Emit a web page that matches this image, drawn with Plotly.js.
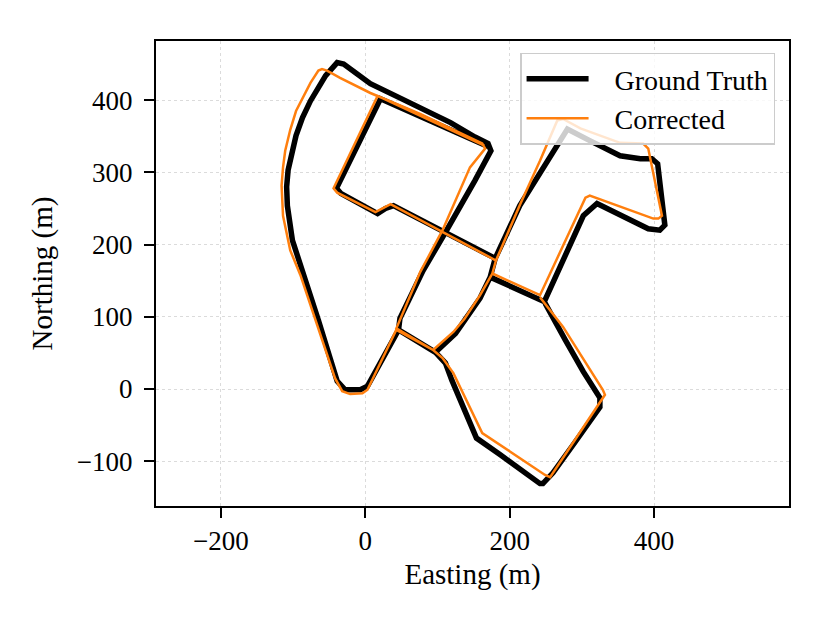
<!DOCTYPE html>
<html>
<head>
<meta charset="utf-8">
<script src="https://cdn.plot.ly/plotly-3.0.1.min.js"></script>
<style>html,body{margin:0;padding:0;background:#fff;}</style>
</head>
<body>
<div id="chart" style="width:830px;height:623px;"></div>
<script>
// Ground truth trajectory (Easting, Northing in m)
const gtEast = [170, 21, -40, -34, 17, 28, 39, 111, 180, 214, 249, 280, 311, 353, 381, 397, 405, 415, 408, 392, 321, 302, 248,
  173, 180, 173, 159, 141, 125, 97, 46, 3, -7, -28, -39, -65, -90, -101, -108, -109, -107, -102, -96, -87, -76, -55, -39, -30, -14, 7, 42, 76, 118, 152, 170, 174,
  152, 111, 80, 48, 46, 97, 111, 120, 138, 154, 187, 242, 246, 260, 291, 325, 325, 302, 277, 260, 249];
const gtNorth = [336, 402, 278, 271, 243, 250, 254, 217, 181, 254, 309, 360, 344, 323, 319, 319, 312, 227, 220, 222, 257, 240, 121,
  155, 181, 155, 126, 99, 77, 51, 82, 4, -1, -1, 11, 95, 171, 206, 254, 280, 303, 328, 351, 376, 399, 434, 452, 450, 438, 423, 406, 390, 369, 349, 340, 330,
  289, 217, 164, 98, 82, 51, 36, 12, -29, -68, -91, -131, -131, -116, -73, -25, -12, 24, 68, 98, 119];

// Corrected trajectory
const corEast = [165, 17, -44, -39, 14, 25, 35, 108, 181, 215, 242, 266, 274, 298, 353, 385, 392, 411, 406, 399, 311, 305, 242,
  176, 181, 176, 159, 138, 122, 94, 43, 3, -4, -21, -32, -42, -90, -104, -114, -116, -114, -111, -104, -96, -76, -65, -60, -53, -35, 7, 76, 162, 166,
  145, 107, 76, 43, 94, 107, 122, 162, 249, 256, 325, 332, 329, 274, 242];
const corNorth = [337, 406, 278, 272, 245, 251, 256, 217, 178, 257, 316, 372, 374, 361, 341, 340, 333, 240, 236, 236, 268, 265, 130,
  160, 178, 160, 130, 98, 79, 54, 82, -1, -6, -7, -3, 15, 158, 192, 240, 282, 307, 330, 359, 385, 424, 441, 443, 441, 431, 410, 381, 340, 333,
  307, 220, 162, 84, 54, 43, 22, -61, -119, -122, -19, -8, -1, 86, 127];

const seriesNames = ['Ground Truth', 'Corrected'];
const xTickVals = [-200, 0, 200, 400];
const xTickText = ['\u2212200', '0', '200', '400'];
const yTickVals = [-100, 0, 100, 200, 300, 400];
const yTickText = ['\u2212100', '0', '100', '200', '300', '400'];

const FONT = 'Liberation Serif, Times New Roman, serif';
const FS = 27;
const FS_BIG = 29;
const FS_LEG = 28;
const PAD = '\u00a0\u00a0\u00a0';

const traces = [
  {x: gtEast, y: gtNorth, type: 'scatter', mode: 'lines', name: PAD + seriesNames[0],
   line: {color: '#000000', width: 5.5}},
  {x: corEast, y: corNorth, type: 'scatter', mode: 'lines', name: PAD + seriesNames[1],
   line: {color: '#ff7f0e', width: 2.5}}
];

const axisCommon = {
  ticks: 'outside', ticklen: 10, tickwidth: 2, tickcolor: '#000',
  showline: true, linewidth: 2, linecolor: '#000', mirror: true,
  showgrid: true, gridcolor: '#d2d2d2', gridwidth: 0.8, griddash: 'dot',
  zeroline: false, automargin: false,
  tickfont: {family: FONT, size: FS, color: '#000'}
};

const layout = {
  width: 830, height: 623,
  margin: {l: 156, r: 41, t: 41, b: 117},
  paper_bgcolor: '#fff', plot_bgcolor: '#fff',
  showlegend: true,
  xaxis: Object.assign({}, axisCommon, {
    range: [-290, 587], tickmode: 'array', tickvals: xTickVals, ticktext: xTickText,
    title: {text: 'Easting (m)', font: {family: FONT, size: FS_BIG, color: '#000'}, standoff: 8}
  }),
  yaxis: Object.assign({}, axisCommon, {
    range: [-162, 482], tickmode: 'array', tickvals: yTickVals, ticktext: yTickText,
    ticklabelstandoff: 6,
    title: {text: 'Northing (m)', font: {family: FONT, size: FS_BIG, color: '#000'}, standoff: 16}
  }),
  legend: {
    x: 0.978, y: 0.975, xanchor: 'right', yanchor: 'top',
    bgcolor: 'rgba(255,255,255,0.8)', bordercolor: '#cccccc', borderwidth: 1.5,
    font: {family: FONT, size: FS_LEG, color: '#000'},
    itemwidth: 62, tracegroupgap: 0
  }
};

Plotly.newPlot('chart', traces, layout, {displayModeBar: false, staticPlot: true});
</script>
</body>
</html>
